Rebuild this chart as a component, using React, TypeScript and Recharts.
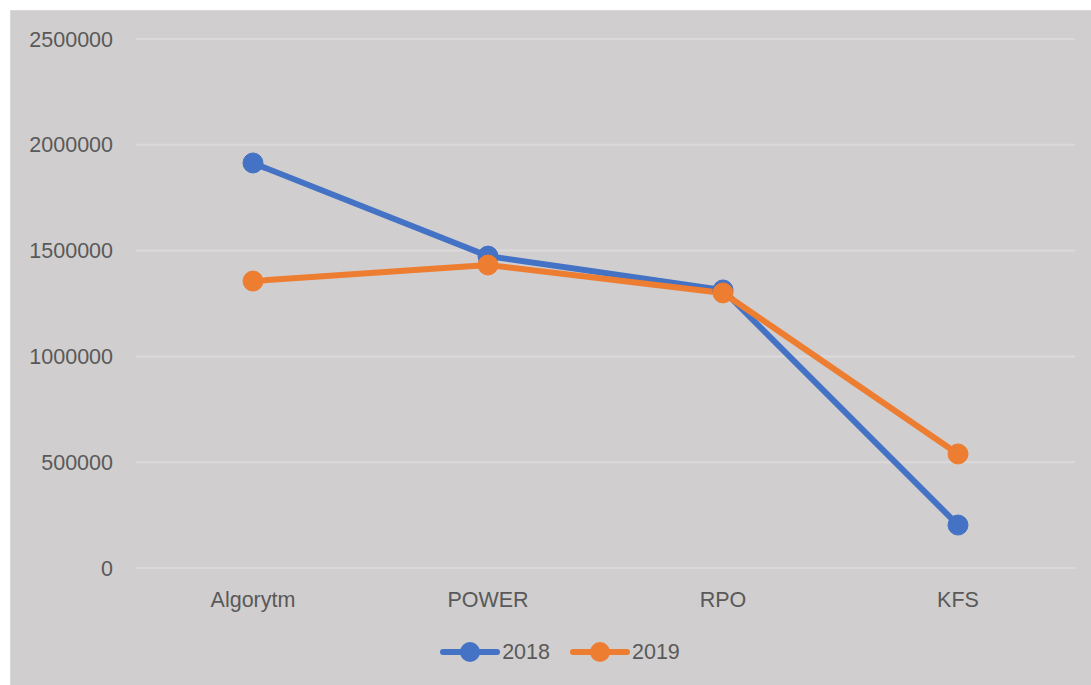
import React from "react";
import { LineChart, Line, XAxis, YAxis, CartesianGrid, Legend } from "recharts";

const categories = ["Algorytm", "POWER", "RPO", "KFS"];
const values2018 = [1914000, 1474000, 1314000, 203000];
const values2019 = [1356000, 1432000, 1300000, 539000];
const yTicks = [0, 500000, 1000000, 1500000, 2000000, 2500000];
const seriesNames = ["2018", "2019"];
const colors = ["#4472C4", "#ED7D31"];

const data = categories.map((c, i) => ({
  name: c,
  s2018: values2018[i],
  s2019: values2019[i],
}));

const FONT = "'Liberation Sans', Arial, sans-serif";

const LegendContent = () => (
  <div
    style={{
      height: 40,
      display: "flex",
      justifyContent: "center",
      alignItems: "center",
      fontFamily: FONT,
      fontSize: 21.5,
      color: "#595959",
      paddingLeft: 34,
    }}
  >
    {seriesNames.map((n, i) => (
      <div key={n} style={{ display: "flex", alignItems: "center", marginLeft: i === 0 ? 0 : 20 }}>
        <svg width={60} height={24}>
          <line x1={3} y1={12} x2={57} y2={12} stroke={colors[i]} strokeWidth={6} strokeLinecap="round" />
          <circle cx={30} cy={12} r={10} fill={colors[i]} />
        </svg>
        <span style={{ marginLeft: 2 }}>{n}</span>
      </div>
    ))}
  </div>
);

export default function App() {
  return (
    <div
      style={{
        position: "fixed",
        top: 10,
        left: 10,
        width: 1081,
        height: 675,
        background: "#D0CECE",
        borderLeft: "1px solid #D9D9D9",
        borderTop: "1px solid #D9D9D9",
        boxSizing: "border-box",
        overflow: "hidden",
      }}
    >
      <LineChart
        width={1080}
        height={674}
        data={data}
        margin={{ top: 28, right: 16, bottom: 13, left: 0 }}
      >
        <CartesianGrid vertical={false} stroke="#DBD9D9" strokeWidth={2} />
        <XAxis
          dataKey="name"
          axisLine={false}
          tickLine={false}
          tickSize={0}
          tickMargin={24}
          height={64}
          padding={{ left: 117, right: 117 }}
          tick={{ fill: "#595959", fontSize: 21.5, fontFamily: FONT }}
        />
        <YAxis
          domain={[0, 2500000]}
          ticks={yTicks}
          axisLine={false}
          tickLine={false}
          tickSize={0}
          tickMargin={23}
          width={125}
          interval={0}
          tick={{ fill: "#595959", fontSize: 21.5, fontFamily: FONT }}
        />
        <Legend verticalAlign="bottom" content={<LegendContent />} />
        <Line
          dataKey="s2018"
          name="2018"
          stroke={colors[0]}
          strokeWidth={6}
          dot={{ r: 10, fill: colors[0], stroke: colors[0], strokeWidth: 1 }}
          activeDot={false}
          isAnimationActive={false}
        />
        <Line
          dataKey="s2019"
          name="2019"
          stroke={colors[1]}
          strokeWidth={6}
          dot={{ r: 10, fill: colors[1], stroke: colors[1], strokeWidth: 1 }}
          activeDot={false}
          isAnimationActive={false}
        />
      </LineChart>
    </div>
  );
}
